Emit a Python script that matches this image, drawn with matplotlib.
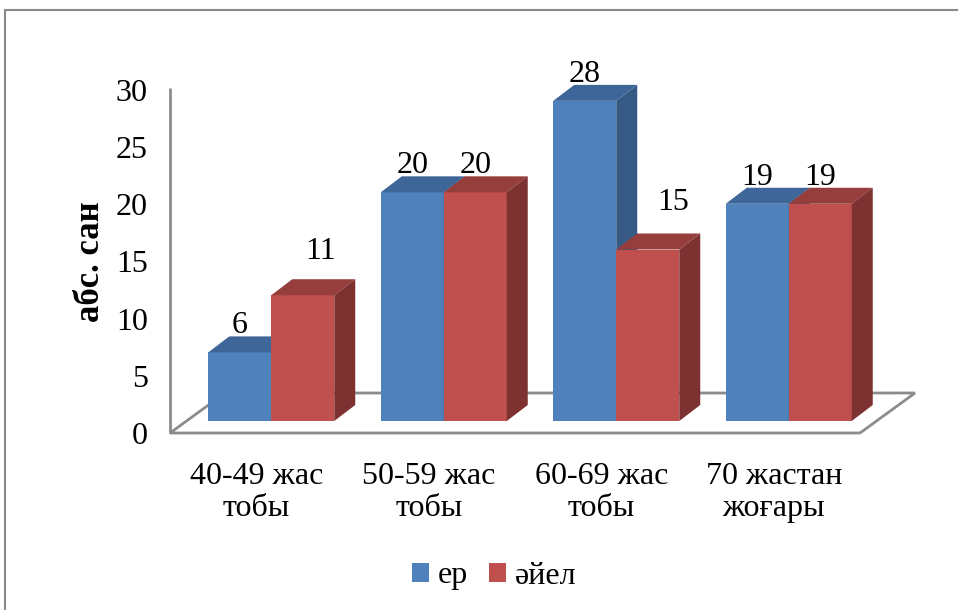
import matplotlib
matplotlib.use("Agg")
import matplotlib.pyplot as plt
from matplotlib.patches import Polygon, Rectangle, Patch

# ---------------- data ----------------
categories = ["40-49 жас\nтобы", "50-59 жас\nтобы", "60-69 жас\nтобы", "70 жастан\nжоғары"]
series_names = ["ер", "әйел"]
men = [6, 20, 28, 19]
women = [11, 20, 15, 19]
yticks = [0, 5, 10, 15, 20, 25, 30]
ylabel = "абс. сан"

# ---------------- style ----------------
FONT = ["Liberation Serif", "DejaVu Serif"]
plt.rcParams["font.family"] = FONT
FS = 23

W, H, DPI = 958, 610, 100
fig = plt.figure(figsize=(W / DPI, H / DPI), dpi=DPI)

# axes placement in pixels (axis plane)
ax_left, ax_right = 170, 860
ax_bottom, ax_top = 433, 90
ax = fig.add_axes([ax_left / W, 1 - ax_bottom / H,
                   (ax_right - ax_left) / W, (ax_bottom - ax_top) / H])
ax.set_xlim(0, 4)
ax.set_ylim(0, 30)
for s in ax.spines.values():
    s.set_visible(False)
ax.patch.set_visible(False)

pxx = 4 / (ax_right - ax_left)      # data units per pixel (x)
pxy = 30 / (ax_bottom - ax_top)     # data units per pixel (y)

# 3D-ish geometry (pixels converted to data units)
shift_x, shift_y = 15 * pxx, 12 * pxy      # bar front plane offset
depth_x, depth_y = 21 * pxx, 16 * pxy      # bar depth
floor_x, floor_y = 55 * pxx, 40 * pxy      # floor depth
bar_w = 63 * pxx

colors = {
    "ер": ("#4F81BD", "#3E6699", "#375A84"),
    "әйел": ("#C0504D", "#953E3C", "#7D3130"),
}
grey = "#8C8C8C"

# floor
floor = Polygon([(0, 0), (4, 0), (4 + floor_x, floor_y), (floor_x, floor_y)],
                closed=True, facecolor="white", edgecolor=grey, lw=2,
                clip_on=False, zorder=1)
ax.add_patch(floor)
# vertical axis line
ax.plot([0, 0], [0, 30.2], color=grey, lw=2, clip_on=False, zorder=1,
        solid_capstyle="butt")

label_offsets = {(1, 0): (18, 17), (1, 2): (25, 20)}  # pixel nudges for some labels

def draw_bar(x0, v, name, z):
    front, top, side = colors[name]
    y0 = shift_y
    y1 = v + shift_y
    x1 = x0 + bar_w
    ax.add_patch(Rectangle((x0, y0), bar_w, v, facecolor=front, edgecolor="none",
                           clip_on=False, zorder=z))
    ax.add_patch(Polygon([(x0, y1), (x1, y1), (x1 + depth_x, y1 + depth_y),
                          (x0 + depth_x, y1 + depth_y)], closed=True,
                         facecolor=top, edgecolor="none", clip_on=False, zorder=z))
    ax.add_patch(Polygon([(x1, y0), (x1 + depth_x, y0 + depth_y),
                          (x1 + depth_x, y1 + depth_y), (x1, y1)], closed=True,
                         facecolor=side, edgecolor="none", clip_on=False, zorder=z))

z = 2
for i in range(len(categories)):
    c = i + 0.5 + shift_x
    for k, (name, vals) in enumerate(zip(series_names, [men, women])):
        x0 = c - bar_w + k * bar_w
        v = vals[i]
        draw_bar(x0, v, name, z)
        z += 1
        dxp, dyp = label_offsets.get((k, i), (0, 0))
        ax.text(x0 + bar_w / 2 + dxp * pxx, v + shift_y + depth_y + (3 + dyp) * pxy,
                str(v), ha="center", va="baseline", fontsize=FS, zorder=50,
                clip_on=False)

# y ticks
ax.set_yticks(yticks)
ax.set_yticklabels([str(t) for t in yticks], fontsize=FS)
ax.tick_params(axis="y", length=0, pad=16)
ax.set_ylabel(ylabel, fontsize=25, fontweight="bold", labelpad=6)

# x ticks
ax.set_xticks([i + 0.5 for i in range(len(categories))])
ax.set_xticklabels(categories, fontsize=FS, linespacing=1.15)
ax.tick_params(axis="x", length=0, pad=21)

# legend
handles = [Patch(facecolor=colors[n][0], edgecolor="none") for n in series_names]
fig.legend(handles, series_names, loc="center", bbox_to_anchor=(494 / W, 1 - 576 / H),
           ncol=2, frameon=False, fontsize=FS, handlelength=0.55, handleheight=0.55,
           handletextpad=0.26, columnspacing=0.65, borderpad=0)

# outer border
fig.patches.append(Rectangle((5 / W, -0.1), 1.2, 1 - 10 / H + 0.1,
                             transform=fig.transFigure, facecolor="none",
                             edgecolor="#8A8A8A", lw=1.5, zorder=0))

fig.savefig("out.png", dpi=DPI)
